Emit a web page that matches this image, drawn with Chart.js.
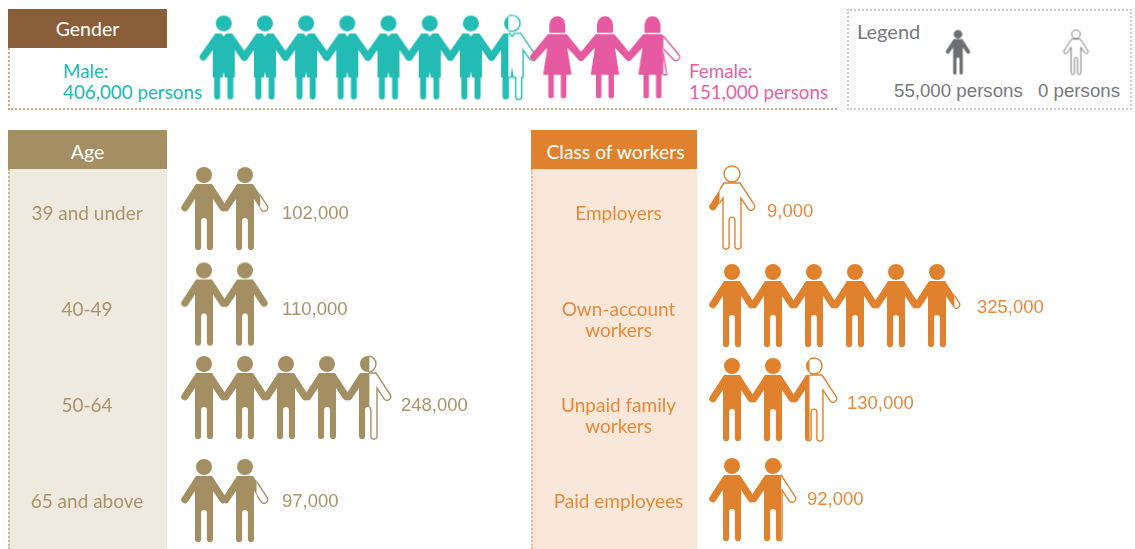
<!DOCTYPE html>
<html>
<head>
<meta charset="utf-8">
<script src="https://cdn.jsdelivr.net/npm/chart.js@4"></script>
<style>
  html, body { margin: 0; padding: 0; background: #fff; overflow: hidden; }
  #page { position: relative; width: 1135px; height: 549px; font-family: Lato, sans-serif; }
  #page canvas { position: absolute; }
  .head { position: absolute; color: #fff; font-size: 19.5px; text-align: center; line-height: 43px; height: 39px; }
  .box { position: absolute; box-sizing: border-box; }
  .txt { position: absolute; font-size: 18.8px; line-height: 21px; white-space: nowrap; }
  .num { position: absolute; font-family: "Liberation Sans", sans-serif; font-size: 18.7px; color: #77787b; white-space: nowrap; line-height: 21px; }
</style>
</head>
<body>
<div id="page">
  <div class="box" style="left:8px;top:48px;width:829px;height:62px;border-left:2px dotted #c6a88c;border-bottom:2px dotted #c6a88c"></div>
  <div class="head" style="left:8px;top:9px;width:159px;background:#8b5e3a;line-height:39px">Gender</div>
  <div class="txt" style="left:63px;top:60px;color:#17b9b3">Male:<br>406,000 persons</div>
  <div class="txt" style="left:689px;top:60px;color:#e85fa5">Female:<br>151,000 persons</div>

  <div class="box" style="left:847px;top:9px;width:285px;height:101px;border:2px dotted #cbcbcb"></div>
  <div class="txt" style="left:857px;top:21px;color:#77787b;font-size:20px">Legend</div>
  <div class="num" style="left:894px;top:80px">55,000 persons</div>
  <div class="num" style="left:1038px;top:80px">0 persons</div>

  <div class="box" style="left:8px;top:169px;width:159px;height:380px;background:#efeadf;border-left:2px dotted #c9ba9b"></div>
  <div class="head" style="left:8px;top:130px;width:159px;background:#a48f63">Age</div>

  <div class="box" style="left:531px;top:169px;width:166px;height:380px;background:#f9e8d9;border-left:2px dotted #efbb8d"></div>
  <div class="head" style="left:531px;top:130px;width:166px;background:#e0812d;font-size:19.3px;padding-left:3px;box-sizing:border-box">Class of workers</div>

  <canvas id="maleChart"></canvas>
  <canvas id="femaleChart"></canvas>
  <canvas id="legendChart"></canvas>
  <canvas id="legendChartEmpty"></canvas>
  <canvas id="ageChart"></canvas>
  <canvas id="classChart"></canvas>
</div>

<script>
// one figure stands for this many persons
const personsPerIcon = 55000;

const genderRow = ['Gender'];
const maleValues = [406000];
const femaleValues = [151000];

const legendRow = ['Legend'];
const legendFull = [55000];
const legendEmpty = [0];

const ageGroups = ['39 and under', '40-49', '50-64', '65 and above'];
const ageValues = [102000, 110000, 248000, 97000];

const workerClasses = ['Employers', 'Own-account\nworkers', 'Unpaid family\nworkers', 'Paid employees'];
const workerValues = [9000, 325000, 130000, 92000];

// figure outlines, drawn around the centre of the figure
const figures = {
  plain: {
    head: 'M8 -34A8 8 0 1 1 -8 -34A8 8 0 1 1 8 -34Z',
    body: 'M-8 -25L8 -25L22 -3.6A3.6 3.6 0 0 1 16.2 0.8L9 -10L9 39A3.2 3.2 0 0 1 2.9 39L2.9 12A2.9 2.9 0 0 0 -2.9 12L-2.9 39A3.2 3.2 0 0 1 -9 39L-9 -10L-16.2 0.8A3.6 3.6 0 0 1 -22 -3.6Z'
  },
  male: {
    head: 'M8 -34A8 8 0 1 1 -8 -34A8 8 0 1 1 8 -34Z',
    body: 'M-8.5 -24L-2.5 -24L0 -21L2.5 -24L8.5 -24L23.2 -2.8A3.5 3.5 0 0 1 17.8 2L11 -7.5L11 20L9.6 20L9.6 39A3 3 0 0 1 3.6 39L3.6 20L1 20L0 14L-1 20L-3.6 20L-3.6 39A3 3 0 0 1 -9.6 39L-9.6 20L-11 20L-11 -7.5L-17.8 2A3.5 3.5 0 0 1 -23.2 -2.8Z'
  },
  female: {
    head: 'M8 -25L8 -33A8 8.5 0 0 0 -8 -33L-8 -25Z',
    body: 'M-9.5 -23.5L9.5 -23.5L26.2 -3A3.5 3.5 0 0 1 21 1.8L10 -10L14.2 17L9 17L9 39A3 3 0 0 1 3.5 39L3.5 17L-3.5 17L-3.5 39A3 3 0 0 1 -9 39L-9 17L-14.2 17L-10 -10L-21 1.8A3.5 3.5 0 0 1 -26.2 -3Z'
  }
};

function makeIcon(figure, color, share, dy, scale, lineWidth) {
  const shape = figures[figure];
  const canvas = document.createElement('canvas');
  canvas.width = Math.ceil(60 * scale);
  canvas.height = Math.ceil(92 * scale + 2 * Math.abs(dy));
  const ctx = canvas.getContext('2d');
  ctx.translate(canvas.width / 2, canvas.height / 2 + dy);
  ctx.scale(scale, scale);
  const parts = [new Path2D(shape.head), new Path2D(shape.body)];
  // the share is filled from the left, over the width the figure's body and arms really fill
  const edge = share >= 1 ? 40 : (share <= 0 ? -40 : -19 + 40 * share);

  ctx.save();
  ctx.beginPath();
  ctx.rect(-40, -60, edge + 40, 120);
  ctx.clip();
  ctx.fillStyle = color;
  parts.forEach(p => ctx.fill(p));
  ctx.restore();

  if (share < 1) {
    ctx.save();
    ctx.beginPath();
    ctx.rect(edge, -60, 40 - edge, 120);
    ctx.clip();
    ctx.strokeStyle = color;
    ctx.lineWidth = lineWidth / scale;
    parts.forEach(p => ctx.stroke(p));
    ctx.restore();
  }
  return canvas;
}

const rowText = {
  id: 'rowText',
  afterDraw(chart, args, opts) {
    if (!opts.show) return;
    const ctx = chart.ctx;
    const yScale = chart.scales.y;
    const xScale = chart.scales.x;
    ctx.save();
    ctx.textBaseline = 'middle';
    opts.labels.forEach((label, i) => {
      const y = yScale.getPixelForValue(i);
      ctx.fillStyle = opts.labelColor;
      ctx.font = '19px Lato';
      ctx.textAlign = 'center';
      label.split('\n').forEach((line, k) => ctx.fillText(line, opts.labelX, y + 1 + k * 21));
      const count = Math.max(1, Math.ceil(opts.values[i] / personsPerIcon));
      ctx.fillStyle = opts.valueColor;
      ctx.font = '18.5px "Liberation Sans"';
      ctx.textAlign = 'left';
      ctx.fillText(opts.values[i].toLocaleString('en-US'),
        xScale.getPixelForValue(count - 0.5) + opts.valueGap[i], y + opts.valueDy);
    });
    ctx.restore();
  }
};

function pictoChart(id, s) {
  const canvas = document.getElementById(id);
  canvas.width = s.w;
  canvas.height = s.h;
  canvas.style.left = s.left + 'px';
  canvas.style.top = s.top + 'px';

  const points = [];
  const icons = [];
  s.values.forEach((value, row) => {
    const whole = value / personsPerIcon;
    const count = Math.max(1, Math.ceil(whole));
    for (let i = 0; i < count; i++) {
      points.push({ x: i + 0.5, y: s.rows[row] });
      icons.push(makeIcon(s.figure, s.color, Math.min(1, whole - i), s.shift[row], s.scale || 1, s.lineWidth || 1.4));
    }
  });

  return new Chart(canvas, {
    type: 'scatter',
    data: {
      datasets: [{
        data: points,
        pointStyle: icons,
        pointRadius: 1,
        clip: false
      }]
    },
    options: {
      responsive: false,
      animation: false,
      events: [],
      layout: { autoPadding: false, padding: { left: s.padLeft, right: 0, top: 0, bottom: 0 } },
      scales: {
        x: { type: 'linear', display: false, min: 0, max: (s.w - s.padLeft) / s.pitch },
        y: { type: 'category', labels: s.rows, offset: true, display: false }
      },
      plugins: {
        legend: { display: false },
        tooltip: { enabled: false },
        rowText: s.text || { show: false }
      }
    },
    plugins: [rowText]
  });
}

pictoChart('maleChart', {
  left: 190, top: 0, w: 350, h: 110, padLeft: 13.1, pitch: 41.2,
  rows: genderRow, values: maleValues, figure: 'male', color: '#23bcb4', shift: [2.4]
});

pictoChart('femaleChart', {
  left: 525, top: 0, w: 170, h: 110, padLeft: 8.5, pitch: 47.6,
  rows: genderRow, values: femaleValues, figure: 'female', color: '#e65aa2', shift: [2.8]
});

// legend samples are far apart, each sits in its own small chart
pictoChart('legendChart', {
  left: 899, top: 10, w: 118, h: 90, padLeft: 0, pitch: 118,
  rows: legendRow, values: legendFull, figure: 'plain', color: '#6d6e71', shift: [-2.5], scale: 0.536
});
pictoChart('legendChartEmpty', {
  left: 1017, top: 10, w: 118, h: 90, padLeft: 0, pitch: 118,
  rows: legendRow, values: legendEmpty, figure: 'plain', color: '#6d6e71', shift: [-2.5], scale: 0.536, lineWidth: 0.9
});

pictoChart('ageChart', {
  left: 8, top: 165, w: 500, h: 384, padLeft: 175.5, pitch: 41,
  rows: ageGroups, values: ageValues, figure: 'plain', color: '#a48f63', shift: [-4, -4.5, -7, 0],
  text: { show: true, labels: ageGroups, values: ageValues, labelX: 79, labelColor: '#a8946a', valueColor: '#a8946a', valueGap: [37, 37, 33, 37], valueDy: 1 }
});

pictoChart('classChart', {
  left: 531, top: 165, w: 600, h: 384, padLeft: 180.5, pitch: 41,
  rows: workerClasses, values: workerValues, figure: 'plain', color: '#e0812d', shift: [-5, -3, -5, -1],
  text: { show: true, labels: workerClasses, values: workerValues, labelX: 87.5, labelColor: '#e58a3a', valueColor: '#e58a3a', valueGap: [35, 40, 33, 34], valueDy: -1 }
});
</script>
</body>
</html>
